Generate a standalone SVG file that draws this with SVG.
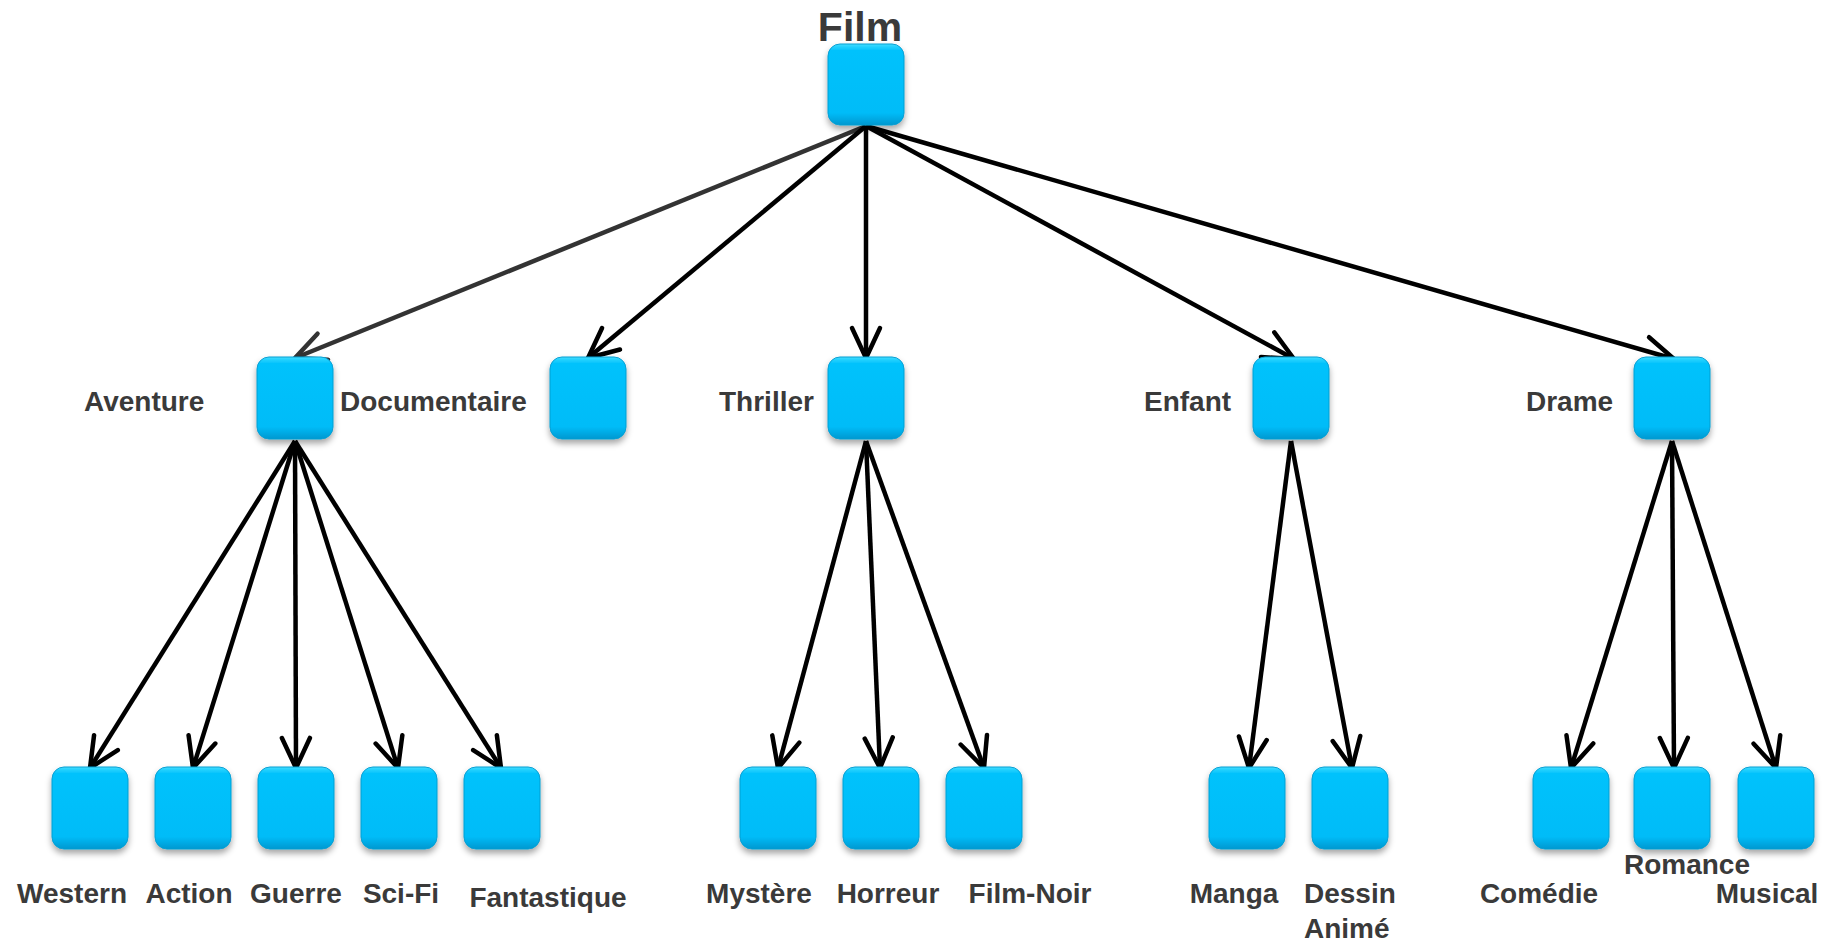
<svg xmlns="http://www.w3.org/2000/svg" width="1831" height="943" viewBox="0 0 1831 943">
  <style>
    .box { fill: url(#boxFill); stroke: #0a9fd2; stroke-width: 1; filter: url(#shadow); }
    .lbl { font-family: "Liberation Sans", Arial, sans-serif; font-weight: bold; font-size: 28px; fill: #3a3a3a; }
    .title { font-size: 41px; }
    .edge { fill: none; stroke: #000; stroke-width: 4.5; marker-end: url(#arrow); }
  </style>
  <defs>
    <linearGradient id="boxFill" x1="0" y1="0" x2="0" y2="1">
      <stop offset="0" stop-color="#3fdcff"/>
      <stop offset="0.08" stop-color="#00c2fc"/>
      <stop offset="0.85" stop-color="#00bcf8"/>
      <stop offset="1" stop-color="#0098d0"/>
    </linearGradient>
    <filter id="shadow" x="-20%" y="-20%" width="140%" height="150%">
      <feDropShadow dx="0" dy="4" stdDeviation="3" flood-color="#000" flood-opacity="0.35"/>
    </filter>
    <!-- open V arrowheads -->
    <marker id="arrow" markerUnits="userSpaceOnUse" viewBox="0 0 36 34" refX="33" refY="17" markerWidth="36" markerHeight="34" orient="auto">
      <path d="M3,3 L33,17 L3,31" fill="none" stroke="#000" stroke-width="4.5" stroke-linecap="round" stroke-linejoin="round"/>
    </marker>
    <marker id="arrowGrey" markerUnits="userSpaceOnUse" viewBox="0 0 36 34" refX="33" refY="17" markerWidth="36" markerHeight="34" orient="auto">
      <path d="M3,3 L33,17 L3,31" fill="none" stroke="#333" stroke-width="4.5" stroke-linecap="round" stroke-linejoin="round"/>
    </marker>
  </defs>

  <rect width="1831" height="943" fill="#fff"/>

  <!-- connectors -->
  <g id="connectors">
    <line class="edge" x1="866" y1="126" x2="295" y2="358" style="stroke:#333;marker-end:url(#arrowGrey)"/>
    <line class="edge" x1="866" y1="126" x2="588" y2="358"/>
    <line class="edge" x1="866" y1="126" x2="866" y2="358"/>
    <line class="edge" x1="866" y1="126" x2="1294" y2="359"/>
    <line class="edge" x1="866" y1="126" x2="1674" y2="359"/>

    <line class="edge" x1="295" y1="441" x2="90" y2="768"/>
    <line class="edge" x1="295" y1="441" x2="193" y2="768"/>
    <line class="edge" x1="295" y1="441" x2="296" y2="768"/>
    <line class="edge" x1="295" y1="441" x2="398" y2="768"/>
    <line class="edge" x1="295" y1="441" x2="501" y2="768"/>

    <line class="edge" x1="866" y1="441" x2="778" y2="768"/>
    <line class="edge" x1="866" y1="441" x2="880" y2="768"/>
    <line class="edge" x1="866" y1="441" x2="984" y2="768"/>

    <line class="edge" x1="1291" y1="441" x2="1249" y2="768"/>
    <line class="edge" x1="1291" y1="441" x2="1352" y2="768"/>

    <line class="edge" x1="1672" y1="441" x2="1571" y2="768"/>
    <line class="edge" x1="1672" y1="441" x2="1674" y2="768"/>
    <line class="edge" x1="1672" y1="441" x2="1776" y2="768"/>
  </g>

  <!-- root -->
  <g id="film">
    <rect class="box" x="828" y="44" width="76" height="81" rx="12"/>
    <text class="lbl title" x="860" y="41" text-anchor="middle">Film</text>
  </g>

  <!-- second level -->
  <g id="aventure">
    <rect class="box" x="257" y="357" width="76" height="82" rx="12"/>
    <text class="lbl" x="84" y="411">Aventure</text>
  </g>
  <g id="documentaire">
    <rect class="box" x="550" y="357" width="76" height="82" rx="12"/>
    <text class="lbl" x="340" y="411">Documentaire</text>
  </g>
  <g id="thriller">
    <rect class="box" x="828" y="357" width="76" height="82" rx="12"/>
    <text class="lbl" x="719" y="411">Thriller</text>
  </g>
  <g id="enfant">
    <rect class="box" x="1253" y="357" width="76" height="82" rx="12"/>
    <text class="lbl" x="1144" y="411">Enfant</text>
  </g>
  <g id="drame">
    <rect class="box" x="1634" y="357" width="76" height="82" rx="12"/>
    <text class="lbl" x="1526" y="411">Drame</text>
  </g>

  <!-- leaves -->
  <g id="western">
    <rect class="box" x="52" y="767" width="76" height="82" rx="12"/>
    <text class="lbl" x="72" y="903" text-anchor="middle">Western</text>
  </g>
  <g id="action">
    <rect class="box" x="155" y="767" width="76" height="82" rx="12"/>
    <text class="lbl" x="189" y="903" text-anchor="middle">Action</text>
  </g>
  <g id="guerre">
    <rect class="box" x="258" y="767" width="76" height="82" rx="12"/>
    <text class="lbl" x="296" y="903" text-anchor="middle">Guerre</text>
  </g>
  <g id="scifi">
    <rect class="box" x="361" y="767" width="76" height="82" rx="12"/>
    <text class="lbl" x="401" y="903" text-anchor="middle">Sci-Fi</text>
  </g>
  <g id="fantastique">
    <rect class="box" x="464" y="767" width="76" height="82" rx="12"/>
    <text class="lbl" x="548" y="907" text-anchor="middle">Fantastique</text>
  </g>

  <g id="mystere">
    <rect class="box" x="740" y="767" width="76" height="82" rx="12"/>
    <text class="lbl" x="759" y="903" text-anchor="middle">Mystère</text>
  </g>
  <g id="horreur">
    <rect class="box" x="843" y="767" width="76" height="82" rx="12"/>
    <text class="lbl" x="888" y="903" text-anchor="middle">Horreur</text>
  </g>
  <g id="film-noir">
    <rect class="box" x="946" y="767" width="76" height="82" rx="12"/>
    <text class="lbl" x="1030" y="903" text-anchor="middle">Film-Noir</text>
  </g>

  <g id="manga">
    <rect class="box" x="1209" y="767" width="76" height="82" rx="12"/>
    <text class="lbl" x="1234" y="903" text-anchor="middle">Manga</text>
  </g>
  <g id="dessin-anime">
    <rect class="box" x="1312" y="767" width="76" height="82" rx="12"/>
    <text class="lbl" x="1304" y="903">Dessin</text>
    <text class="lbl" x="1304" y="938">Animé</text>
  </g>

  <g id="comedie">
    <rect class="box" x="1533" y="767" width="76" height="82" rx="12"/>
    <text class="lbl" x="1539" y="903" text-anchor="middle">Comédie</text>
  </g>
  <g id="romance">
    <rect class="box" x="1634" y="767" width="76" height="82" rx="12"/>
    <text class="lbl" x="1687" y="874" text-anchor="middle">Romance</text>
  </g>
  <g id="musical">
    <rect class="box" x="1738" y="767" width="76" height="82" rx="12"/>
    <text class="lbl" x="1767" y="903" text-anchor="middle">Musical</text>
  </g>
</svg>
